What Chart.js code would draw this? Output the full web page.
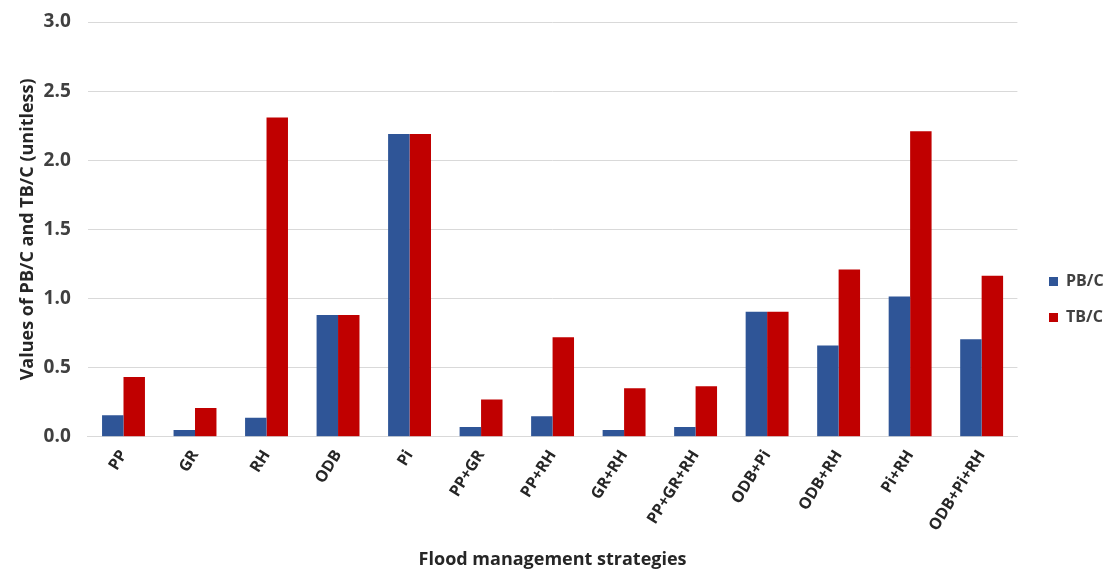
<!DOCTYPE html>
<html>
<head>
<meta charset="utf-8">
<script src="https://cdn.jsdelivr.net/npm/chart.js@4/dist/chart.umd.min.js"></script>
<style>
html,body{margin:0;padding:0;background:#fff;}
#wrap{width:1113px;height:571px;position:relative;}
</style>
</head>
<body>
<div id="wrap"><canvas id="c" width="1113" height="571"></canvas></div>
<script>
const categories = ["PP","GR","RH","ODB","Pi","PP+GR","PP+RH","GR+RH","PP+GR+RH","ODB+Pi","ODB+RH","Pi+RH","ODB+Pi+RH"];
const pbcValues = [0.155,0.049,0.138,0.88,2.19,0.07,0.148,0.049,0.07,0.905,0.66,1.015,0.706];
const tbcValues = [0.433,0.208,2.31,0.88,2.19,0.27,0.72,0.35,0.365,0.905,1.21,2.21,1.165];
const seriesNames = ["PB/C","TB/C"];
const yTicks = [0,0.5,1.0,1.5,2.0,2.5,3.0];

const FONT = "'Open Sans', 'Liberation Sans', sans-serif";

// places the legend block after layout
const legendShift = {
  id: 'legendShift',
  afterLayout(chart) {
    const lg = chart.legend;
    if (!lg) return;
    const pad = lg.options.labels.padding;
    const w = lg.width;
    lg.left = 1049 - pad; lg.right = lg.left + w;
    const dy = 3;
    lg.top += dy; lg.bottom += dy;
  }
};

new Chart(document.getElementById('c'), {
  type: 'bar',
  data: {
    labels: categories,
    datasets: [
      {label: seriesNames[0], data: pbcValues, backgroundColor: '#2F5597', categoryPercentage: 0.6, barPercentage: 1.0},
      {label: seriesNames[1], data: tbcValues, backgroundColor: '#C00000', categoryPercentage: 0.6, barPercentage: 1.0}
    ]
  },
  plugins: [legendShift],
  options: {
    responsive: false,
    animation: false,
    devicePixelRatio: 1,
    layout: {padding: {top: 22, right: 11, left: 13, bottom: 0}},
    plugins: {
      legend: {
        position: 'right',
        maxWidth: 96,
        labels: {
          boxWidth: 9, boxHeight: 9, padding: 20,
          color: '#404040',
          font: {family: FONT, size: 16, weight: 'bold'}
        }
      },
      tooltip: {enabled: false}
    },
    scales: {
      x: {
        afterFit: (s) => { s.paddingLeft = 0; s.paddingRight = 0; },
        grid: {display: false},
        border: {display: true, color: '#d9d9d9'},
        ticks: {
          color: '#262626', maxRotation: 58, minRotation: 58, padding: 2,
          font: {family: FONT, size: 16, weight: 'bold'}
        },
        title: {display: true, text: 'Flood management strategies', color: '#262626',
          font: {family: FONT, size: 18, weight: 'bold'}, padding: {top: 13, bottom: 0}}
      },
      y: {
        min: 0, max: 3,
        afterFit: (s) => { s.paddingTop = 0; s.paddingBottom = 0; },
        afterBuildTicks: (axis) => { axis.ticks = yTicks.map(v => ({value: v})); },
        grid: {color: '#d9d9d9', drawTicks: false},
        border: {display: false},
        ticks: {
          padding: 17, color: '#404040',
          callback: (v) => Number(v).toFixed(1),
          font: {family: FONT, size: 19, weight: 'bold'}
        },
        title: {display: true, text: 'Values of PB/C and TB/C (unitless)', color: '#262626',
          font: {family: FONT, size: 18, weight: 'bold'}, padding: {top: 4, bottom: -12}}
      }
    }
  }
});
</script>
</body>
</html>
